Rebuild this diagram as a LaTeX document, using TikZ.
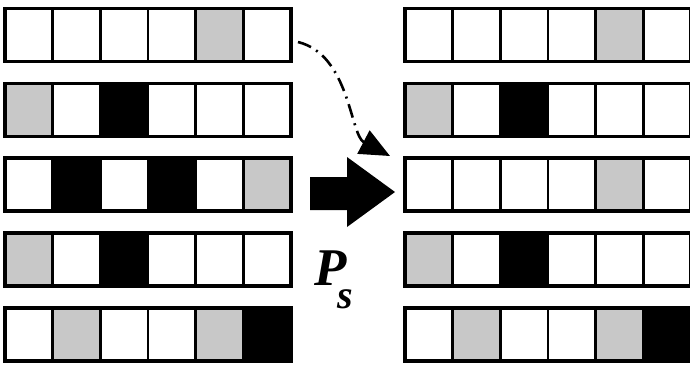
\documentclass[tikz,border=0pt]{standalone}
\usepackage{fontspec}
\setmainfont{Liberation Serif}
\usetikzlibrary{positioning}
\usetikzlibrary{arrows.meta}

\definecolor{cw}{RGB}{255,255,255}
\definecolor{cg}{RGB}{200,200,200}
\definecolor{ck}{RGB}{0,0,0}

\tikzset{
    cell/.style={draw, line width=1.2pt, minimum width=23.83pt, minimum height=26.5pt, inner sep=0pt, outer sep=0pt},
    rowframe/.style={draw, line width=1.8pt},
}

\begin{document}
\begin{tikzpicture}[x=0.5pt, y=-0.5pt]
    \useasboundingbox (0, 0) rectangle (690, 365);

    % rows on the left
    \foreach \r/\pat in {1/{cw,cw,cw,cw,cg,cw}, 2/{cg,cw,ck,cw,cw,cw}, 3/{cw,ck,cw,ck,cw,cg}, 4/{cg,cw,ck,cw,cw,cw}, 5/{cw,cg,cw,cw,cg,ck}} {
        \foreach \f [count=\c] in \pat {
            \node[cell, fill=\f] (L\r-\c) at ({5 + (\c - 0.5)*47.67}, {35 + (\r - 1)*74.8}) {};
        }
        \draw[rowframe] (L\r-1.north west) rectangle (L\r-6.south east);
    }

    % rows on the right
    \foreach \r/\pat in {1/{cw,cw,cw,cw,cg,cw}, 2/{cg,cw,ck,cw,cw,cw}, 3/{cw,cw,cw,cw,cg,cw}, 4/{cg,cw,ck,cw,cw,cw}, 5/{cw,cg,cw,cw,cg,ck}} {
        \foreach \f [count=\c] in \pat {
            \node[cell, fill=\f] (R\r-\c) at ({405 + (\c - 0.5)*47.67}, {35 + (\r - 1)*74.8}) {};
        }
        \draw[rowframe] (R\r-1.north west) rectangle (R\r-6.south east);
    }

    % dash-dot arrow
    \coordinate (cfrom) at (298, 42);
    \coordinate (cto) at (390, 156);
    \draw[line width=1.3pt, dash pattern=on 7pt off 3pt on 1pt off 3pt, -{Triangle[length=15pt, width=13pt]}]
        (cfrom) .. controls (350, 55) and (350, 135) .. (cto);

    % big arrow
    \fill (310, 177) -- (347, 177) -- (347, 157) -- (395, 192) -- (347, 227) -- (347, 210) -- (310, 210) -- cycle;

    % P_s
    \node[anchor=base west, inner sep=0pt, font=\fontsize{26.5}{30}\selectfont\bfseries\itshape] (ps) at (314, 285)
        {P\kern-4.5pt\raisebox{-11.5pt}{\fontsize{20}{20}\selectfont s}};

\end{tikzpicture}
\end{document}
